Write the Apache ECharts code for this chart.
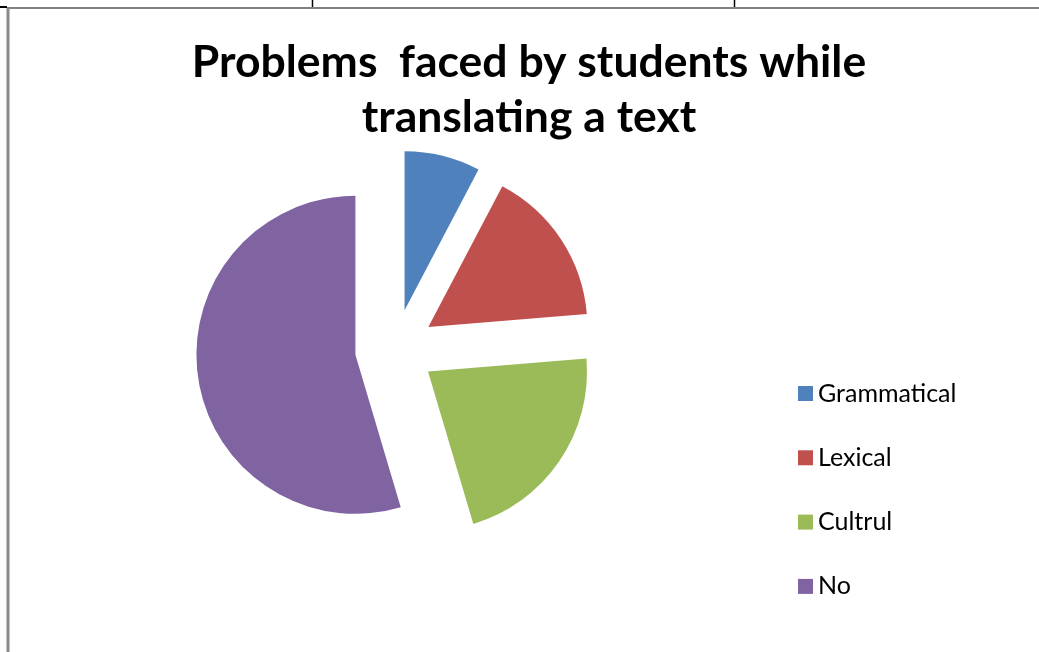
<!DOCTYPE html>
<html lang="en">
<head>
    <meta charset="UTF-8">
    <title>Problems faced by students</title>
    <style>
        * {
            margin: 0px;
            padding: 0px;
        }

        #main {
            width: 1039px;
            height: 652px;
            background-color: #ffffff;
        }
    </style>
</head>
<body>
<div id="main"></div>
<script src="https://cdn.jsdelivr.net/npm/echarts@6/dist/echarts.min.js"></script>
<script type="text/javascript">
    // data (share of answers, %)
    var categories = ['Grammatical', 'Lexical', 'Cultrul', 'No'];
    var values = [7.7, 16.0, 21.7, 54.6];
    var colors = ['#4F81BD', '#C0504D', '#9BBB59', '#8064A2'];

    var pieData = [];
    for (var i = 0; i < categories.length; i++) {
        pieData.push({
            name: categories[i],
            value: values[i],
            selected: true,
            itemStyle: {color: colors[i]}
        });
    }

    var myChart = echarts.init(document.getElementById('main'));
    myChart.setOption({
        animation: false,
        title: {
            text: 'Problems  faced by students while\ntranslating a text',
            left: 524,
            top: 30,
            textAlign: 'center',
            textStyle: {
                fontFamily: 'Lato',
                fontWeight: 'bold',
                fontSize: 44.5,
                lineHeight: 55,
                color: '#000000'
            }
        },
        legend: {
            orient: 'vertical',
            left: 793,
            top: 376,
            itemWidth: 15,
            itemHeight: 15,
            itemGap: 39.3,
            icon: 'rect',
            data: categories,
            textStyle: {
                fontFamily: 'Lato',
                fontSize: 25,
                lineHeight: 25,
                color: '#000000'
            }
        },
        graphic: [
            {type: 'line', shape: {x1: 7, y1: 8, x2: 1039, y2: 8}, style: {stroke: '#808080', lineWidth: 2}},
            {type: 'line', shape: {x1: 8, y1: 8, x2: 8, y2: 652}, style: {stroke: '#8a8a8a', lineWidth: 3}},
            {type: 'line', shape: {x1: 0, y1: 7, x2: 7, y2: 7}, style: {stroke: '#000000', lineWidth: 2}},
            {type: 'line', shape: {x1: 312.5, y1: 0, x2: 312.5, y2: 7}, style: {stroke: '#000000', lineWidth: 1.5}},
            {type: 'line', shape: {x1: 734.5, y1: 0, x2: 734.5, y2: 7}, style: {stroke: '#000000', lineWidth: 1.5}}
        ],
        series: [
            {
                name: 'Problems',
                type: 'pie',
                center: [395, 349],
                radius: [0, 159],
                startAngle: 90,
                clockwise: true,
                selectedMode: 'multiple',
                selectedOffset: 40,
                avoidLabelOverlap: false,
                label: {show: false},
                labelLine: {show: false},
                emphasis: {disabled: true},
                select: {itemStyle: {borderWidth: 0}},
                data: pieData
            }
        ]
    });
</script>
</body>
</html>
